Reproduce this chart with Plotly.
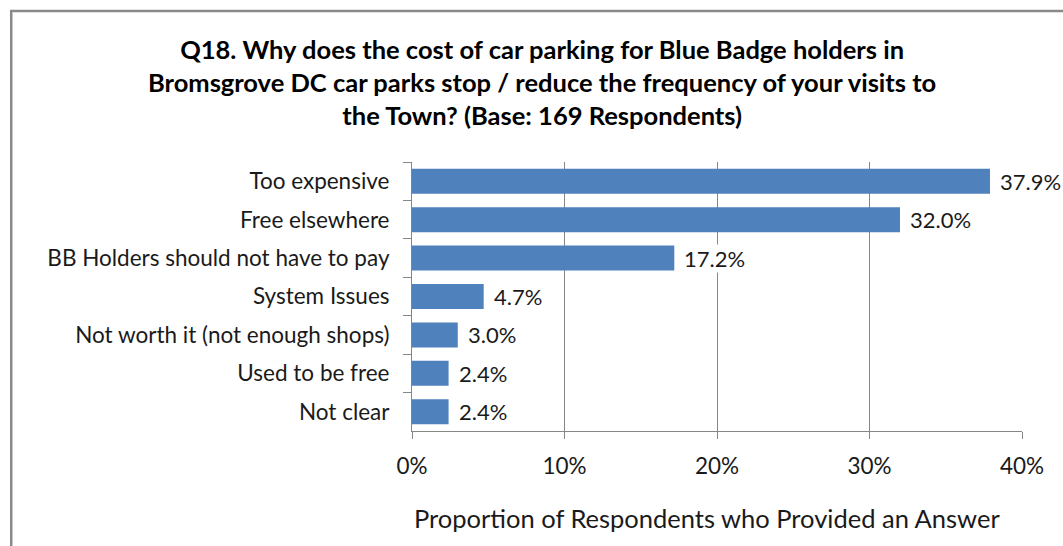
import plotly.graph_objects as go

# Survey responses (percent of 169 respondents)
categories = [
    "Too expensive",
    "Free elsewhere",
    "BB Holders should not have to pay",
    "System Issues",
    "Not worth it (not enough shops)",
    "Used to be free",
    "Not clear",
]
percentages = [37.9, 32.0, 17.2, 4.7, 3.0, 2.4, 2.4]
tick_values = [0, 10, 20, 30, 40]
tick_labels = ["0%", "10%", "20%", "30%", "40%"]

FONT = "Lato, 'Open Sans', sans-serif"
GREY = "#868686"
BLUE = "#4F81BD"
TEXT = "#1a1a1a"

fig = go.Figure(
    go.Bar(
        x=percentages,
        y=categories,
        orientation="h",
        marker=dict(color=BLUE, line=dict(width=0)),
        hoverinfo="skip",
    )
)

# Value labels next to each bar, with a white backing over the gridlines
for cat, val in zip(categories, percentages):
    fig.add_annotation(
        x=val, y=cat, xref="x", yref="y",
        text=f"{val:.1f}%",
        showarrow=False,
        xanchor="left", xshift=9,
        bgcolor="white",
        borderpad=0,
        font=dict(family=FONT, size=22, color=TEXT),
    )

# Axis caption, centred a little left of the plot centre
fig.add_annotation(
    x=0.484, y=-0.325, xref="paper", yref="paper",
    text="Proportion of Respondents who Provided an Answer",
    showarrow=False, xanchor="center", yanchor="middle",
    font=dict(family=FONT, size=25.5, color=TEXT),
)

# Chart border (runs off the right and bottom edges)
fig.add_shape(
    type="rect", xref="paper", yref="paper",
    x0=-0.657, x1=1.1, y0=-0.5, y1=1.561,
    line=dict(color="#8a8a8a", width=2.5),
    fillcolor="rgba(0,0,0,0)", layer="below",
)

fig.update_layout(
    width=1063, height=546,
    margin=dict(l=412, r=41, t=162, b=115),
    paper_bgcolor="white", plot_bgcolor="white",
    bargap=0.35,
    showlegend=False,
    title=dict(
        text="<b>Q18. Why does the cost of car parking for Blue Badge holders in<br>"
             "Bromsgrove DC car parks stop / reduce the frequency of your visits to<br>"
             "the Town? (Base: 169 Respondents)</b>",
        xref="container", yref="container",
        x=0.51, xanchor="center",
        y=1 - 59 / 546, yanchor="middle",
        font=dict(family=FONT, size=25.5, color="#000"),
    ),
    font=dict(family=FONT, color=TEXT),
)

fig.update_xaxes(
    range=[0, 40],
    tickvals=tick_values, ticktext=tick_labels,
    showgrid=True, gridcolor=GREY, gridwidth=1,
    zeroline=False,
    showline=True, linecolor=GREY, linewidth=1,
    ticks="outside", ticklen=7, tickcolor=GREY,
    ticklabelstandoff=8,
    tickfont=dict(family=FONT, size=22.5, color=TEXT),
)

fig.update_yaxes(
    autorange="reversed",
    showgrid=False,
    showline=True, linecolor=GREY, linewidth=1,
    ticks="outside", ticklen=8, tickcolor=GREY,
    tickson="boundaries",
    ticklabelstandoff=17,
    tickfont=dict(family=FONT, size=22.5, color=TEXT),
)

fig.write_html("out.html")
